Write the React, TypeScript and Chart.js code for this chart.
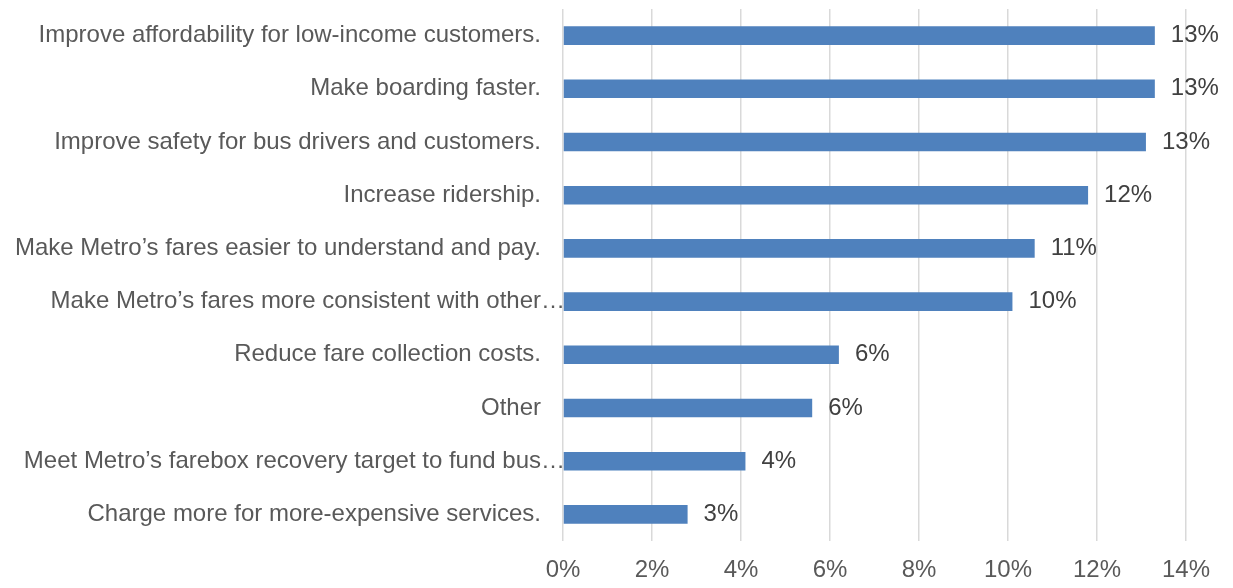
import React, { useEffect, useRef } from "react";
import { Chart, registerables } from "chart.js";

Chart.register(...registerables);

const categories = [
  "Improve affordability for low-income customers.",
  "Make boarding faster.",
  "Improve safety for bus drivers and customers.",
  "Increase ridership.",
  "Make Metro’s fares easier to understand and pay.",
  "Make Metro’s fares more consistent with other…",
  "Reduce fare collection costs.",
  "Other",
  "Meet Metro’s farebox recovery target to fund bus…",
  "Charge more for more-expensive services.",
];

const values = [13.3, 13.3, 13.1, 11.8, 10.6, 10.1, 6.2, 5.6, 4.1, 2.8];

const xTicks = [0, 2, 4, 6, 8, 10, 12, 14];

const FONT = "'Liberation Sans', Arial, sans-serif";
const FONT_SIZE = 24;

const categoryLabelPlugin = {
  id: "categoryLabels",
  afterDraw(chart: any) {
    const { ctx, chartArea } = chart;
    const yScale = chart.scales.y;
    ctx.save();
    ctx.font = `${FONT_SIZE}px ${FONT}`;
    ctx.fillStyle = "#595959";
    ctx.textBaseline = "middle";
    const right = chartArea.left - 22;
    categories.forEach((label, i) => {
      const y = yScale.getPixelForValue(i);
      if (label.endsWith("…")) {
        const base = label.slice(0, -1);
        ctx.textAlign = "right";
        ctx.fillText(base, right, y);
        ctx.textAlign = "left";
        ctx.fillText("…", right, y);
      } else {
        ctx.textAlign = "right";
        ctx.fillText(label, right, y);
      }
    });
    ctx.restore();
  },
};

const valueLabelPlugin = {
  id: "valueLabels",
  afterDatasetsDraw(chart: any) {
    const { ctx } = chart;
    const meta = chart.getDatasetMeta(0);
    ctx.save();
    ctx.font = `${FONT_SIZE}px ${FONT}`;
    ctx.fillStyle = "#404040";
    ctx.textBaseline = "middle";
    ctx.textAlign = "left";
    meta.data.forEach((bar: any, i: number) => {
      ctx.fillText(Math.round(values[i]) + "%", bar.x + 16, bar.y);
    });
    ctx.restore();
  },
};

export default function App() {
  const ref = useRef<HTMLCanvasElement | null>(null);
  useEffect(() => {
    if (!ref.current) return;
    const chart = new Chart(ref.current, {
      type: "bar",
      data: {
        labels: categories,
        datasets: [
          {
            data: values,
            backgroundColor: "#4f81bd",
            borderColor: "#4f81bd",
            borderWidth: 0,
            categoryPercentage: 1,
            barPercentage: 0.35,
          },
        ],
      },
      options: {
        indexAxis: "y",
        animation: false,
        responsive: false,
        maintainAspectRatio: false,
        devicePixelRatio: 1,
        layout: { padding: { top: 1, right: 32, bottom: 0, left: 0 } },
        plugins: {
          legend: { display: false },
          tooltip: { enabled: false },
        },
        scales: {
          x: {
            min: 0,
            max: 14,
            afterBuildTicks: (scale: any) => {
              scale.ticks = xTicks.map((v) => ({ value: v }));
            },
            afterFit: (scale: any) => {
              scale.height = 40;
            },
            ticks: {
              callback: (v: any) => v + "%",
              color: "#595959",
              font: { family: FONT, size: FONT_SIZE },
              padding: 15,
              maxRotation: 0,
            },
            grid: {
              color: "#d9d9d9",
              lineWidth: 1.5,
              drawTicks: false,
            },
            border: { display: false },
          },
          y: {
            ticks: { display: false },
            grid: { display: false },
            border: { display: false },
            afterFit: (scale: any) => {
              scale.width = 555;
            },
          },
        },
      },
      plugins: [categoryLabelPlugin, valueLabelPlugin],
    });
    return () => chart.destroy();
  }, []);
  return (
    <div style={{ width: 1217, height: 573 }}>
      <canvas ref={ref} width={1217} height={573} style={{ display: "block" }} />
    </div>
  );
}
